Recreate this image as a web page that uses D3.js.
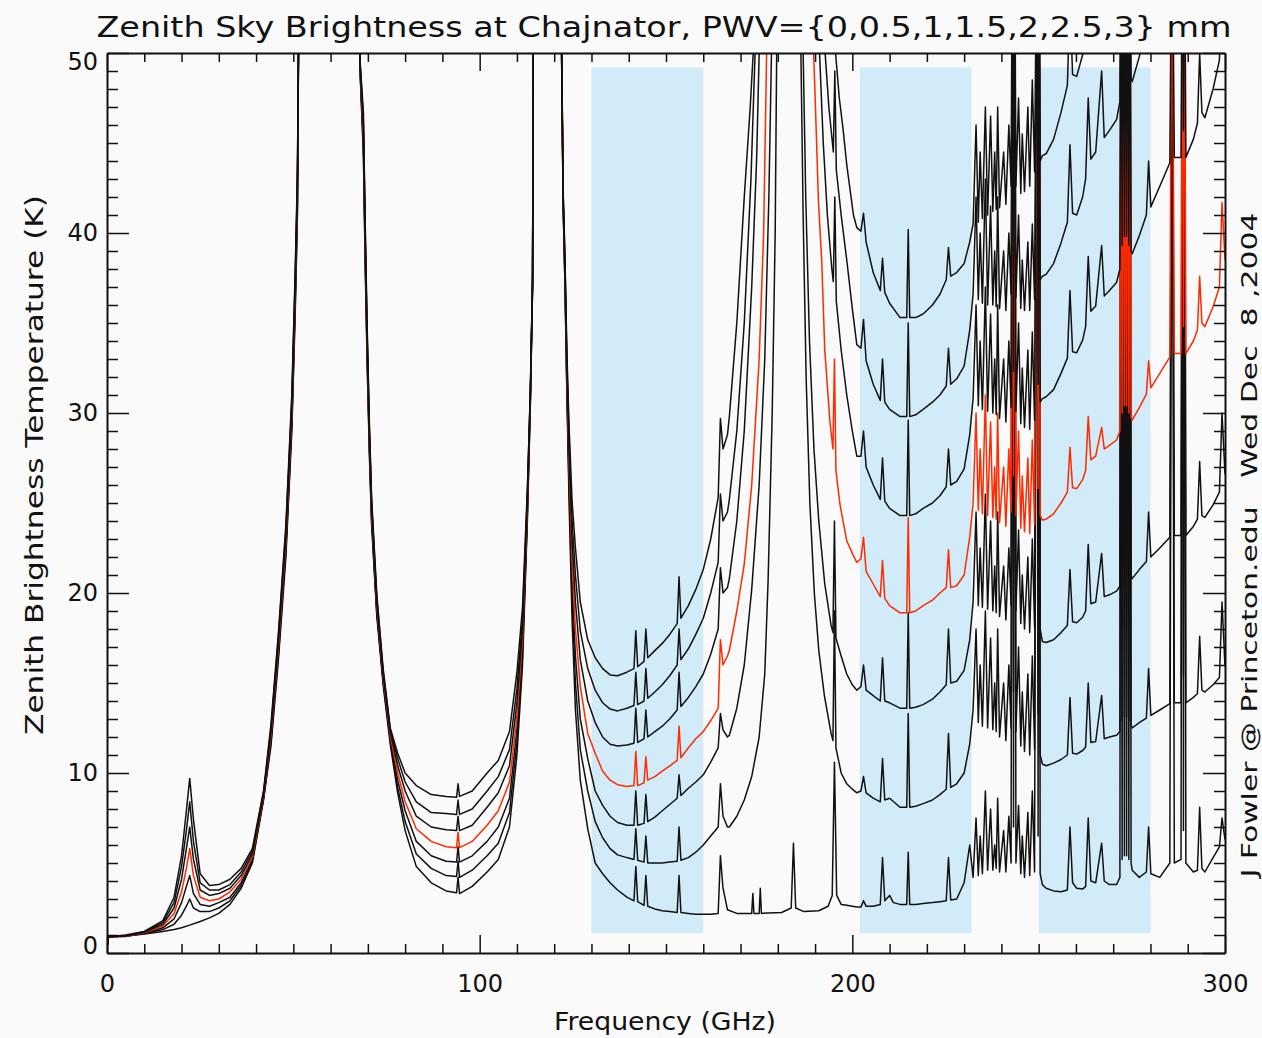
<!DOCTYPE html>
<html>
<head>
<meta charset="utf-8"/>
<title>Zenith Sky Brightness at Chajnator</title>
<script src="https://d3js.org/d3.v7.min.js"></script>
<style>
  body {margin:0; background:#fafafa;}
  text {font-family:"DejaVu Sans", sans-serif; fill:#111;}
  .axis path, .axis line {stroke:#111;}
</style>
</head>
<body>
<svg id="chart" width="1262" height="1038"></svg>
<script>
// ---- data: [frequency GHz, brightness K] ----
var pwvValues = [0, 0.5, 1, 1.5, 2, 2.5, 3];
var redPwv = 1.5;
var windowBands = [[130,160],[202,232],[250,280]];
var bandK = [1.1, 49.2];
var xMajorTicks = [0,100,200,300];
var yMajorTicks = [0,10,20,30,40,50];

var tb_pwv0 = [[0,0.3],[0.4,0.9],[5,0.95],[10,1.05],[15,1.2],[18,1.3],[20,1.4],[22.2,1.55],[25,1.75],[27.5,1.95],[30,2.2],[33,2.7],[36,3.6],[39,5.0],[42,8.5],[44,11.5],[46,16.3],[48,22.0],[49.6,29],[50.5,35.5],[51.1,41],[51.4,50.5],[52,60],[67.5,60],[67.9,49],[68.8,44.3],[69.3,38],[69.8,32.8],[70.4,27.7],[71,23.8],[72.4,18.7],[74.1,14.9],[76,11.6],[78,8.9],[80,6.8],[83,4.8],[87,3.9],[91,3.45],[93.8,3.35],[94.2,4.2],[94.6,3.3],[98,3.7],[102,4.5],[105,5.2],[108,7.0],[110,11],[111.5,16],[112.8,24],[113.6,30.5],[114.2,37],[114.5,60],[121.7,60],[122.0,49.5],[122.4,41.5],[122.9,37],[123.4,31],[124,25],[124.8,18.5],[125.7,13.5],[127,9.6],[129,6.9],[131,5.0],[133,4.4],[135,3.9],[137,3.5],[139.5,3.1],[141.4,2.9],[141.9,4.8],[142.4,2.85],[144.1,2.65],[144.6,4.3],[145.1,2.6],[147,2.45],[149,2.35],[151,2.3],[153,2.25],[153.5,4.3],[154,2.25],[156,2.2],[158,2.15],[160,2.15],[162,2.15],[164,2.2],[164.6,5.4],[165.3,3.6],[166.5,2.4],[169,2.2],[173,2.2],[173.3,3.3],[173.6,2.2],[175,2.2],[175.3,3.6],[175.6,2.2],[181,2.25],[183.6,2.5],[184.2,6.1],[184.8,2.5],[187,2.3],[191,2.35],[193.5,2.6],[194.6,3.2],[195.2,10.6],[195.8,3.2],[197,2.7],
  [198.5,2.65],[200,2.6],[201.2,2.55],[202.3,2.55],[203.0,2.9],[203.7,2.6],[205.6,2.6],[207.5,2.7],[208.1,5.3],[208.7,2.9],[210,3.2],[211,2.8],[212.8,2.7],[214.6,2.7],[215,5.6],[215.4,2.7],[217,2.7],[219,2.75],[221.5,2.8],[223.5,2.85],[225.2,2.9],[225.8,5.3],[226.4,2.95],[228,3.0],[230,3.9],[231.5,6.0],[232.4,4.2],
  [233.2,7.5],[233.8,4.3],[234.3,6.5],[234.9,4.4],[235.7,9.0],[236.3,4.6],[237.1,8.0],[237.7,4.6],[238.2,6.0],[238.6,4.7],[239.0,8.6],[239.5,4.5],[240.6,6.8],[241.2,4.5],[242.0,7.6],[242.6,5.0],[243.0,60],[243.25,7.0],[243.5,60],[243.9,5.0],[244.6,8.2],[245.2,4.4],[245.6,6.5],[246.2,4.2],[247.1,7.8],[247.6,4.3],[248.3,9.0],[248.9,4.5],[249.6,60],[249.85,6.5],[250.1,60],[250.4,4.4],[251,3.8],
  [252,3.6],[254,3.45],[256,3.4],[257.7,3.5],[258.4,7.0],[259.1,3.9],[260.2,3.6],[261.8,3.55],[262.6,3.7],[263.3,7.5],[264,4.0],[265.3,3.9],[266.9,6.1],[267.6,4.0],[269,3.8],[270.9,3.8],[271.8,4.2],[272.1,60],[272.4,5.2],[272.7,60],[273.0,5.4],[273.3,60],[273.6,5.4],[273.9,60],[274.2,5.2],[274.5,60],[274.8,5.0],[275.1,4.6],[277,4.2],[278.9,4.5],[279.5,7.0],[280.1,4.4],[282.5,4.2],[285.2,5.0],[285.8,60],[286.4,5.0],[288.2,5.2],[288.6,60],[288.85,6.8],[289.1,60],[289.5,5.0],[291.5,4.5],[292.6,4.6],[293.2,8.1],[293.8,4.7],[294.6,4.5],[296.8,5.3],[298.5,5.9],[299.2,7.5],[300,6.3]];

var tb_pwv05 = [[0,0.3],[0.4,0.9],[5,0.95],[10,1.07],[15,1.3],[18,1.6],[20,2.1],[21.3,2.6],[22.2,3.0],[23.2,2.5],[25,2.3],[27.5,2.3],[30,2.5],[33,2.9],[36,3.75],[39,5.1],[42,8.55],[44,11.7],[46,16.55],[48,22.3],[49.6,29.35],[50.5,35.9],[51.1,41.4],[51.4,50.6],[52,60],[67.5,60],[67.9,49.1],[68.8,44.7],[69.3,38.4],[69.8,33.15],[70.4,28.0],[71,24.05],[72.4,18.9],[74.1,15.05],[76,11.8],[78,9.2],[80,7.3],[83,5.5],[87,4.7],[91,4.3],[93.8,4.25],[94.2,5.1],[94.6,4.2],[98,4.6],[102,5.4],[105,6.1],[108,7.8],[110,11.7],[111.5,16.5],[112.8,24.3],[113.6,30.6],[114.2,37.1],[114.5,60],[121.7,60],[122.0,49.6],[122.4,41.6],[122.9,37.2],[123.4,31.4],[124,25.7],[124.8,19.6],[125.7,15],[127,11.3],[129,9.0],[131,7.3],[133,6.4],[135,5.8],[137,5.45],[139.5,5.3],[141.4,5.2],[141.9,6.9],[142.4,5.15],[144.1,5.05],[144.6,6.5],[145.1,5.0],[147,5.0],[149,5.0],[151,5.05],[153,5.1],[153.5,7.0],[154,5.15],[156,5.3],[158,5.6],[160,6.0],[162,6.5],[164,7.0],[164.6,9.4],[165.3,7.6],[166.5,7.0],[167,7.0],[169,7.6],[171,8.5],[173,9.8],[175,12.0],[176.5,15.5],[177.4,20.7],[178.5,30],[179.3,40],[179.7,50],[180,60],[186,60],[186.2,50],[186.8,41],[187.6,32],[188.6,25],[189.8,20],[191,16.8],[192.5,14.3],[194.3,12.2],[194.8,11.8],[195.2,19],[195.6,11.4],[197,10.0],
  [198.5,9.4],[200,9.1],[201.2,8.9],[202.3,9.0],[203.0,9.8],[203.7,8.9],[205.6,8.6],[207.5,8.4],[208.1,10.8],[208.7,8.5],[210,8.6],[212.8,8.1],[214.6,8.1],[215,13.3],[215.4,8.1],[217,8.15],[219,8.3],[221.5,8.5],[223.5,8.8],[225.2,9.1],[225.8,12.2],[226.4,9.2],[228,9.4],[230,10.0],[231.5,11.6],[232.4,13.5],
  [233.2,18],[233.8,12.8],[234.3,16],[234.9,12.6],[235.7,19],[236.3,12.5],[237.1,17.5],[237.7,12.4],[238.2,15],[238.6,12.3],[239.0,18],[239.5,12.0],[240.6,15],[241.2,11.8],[242.0,16],[242.6,12.5],[243.0,60],[243.25,14.5],[243.5,60],[243.9,12.3],[244.6,17],[245.2,11.5],[245.6,14.5],[246.2,11.2],[247.1,15.5],[247.6,11.0],[248.3,16.5],[248.9,11.3],[249.6,60],[249.85,13.3],[250.1,60],[250.4,11.0],[251,10.5],
  [252,10.4],[254,10.55],[256,10.75],[257.7,11.0],[258.4,14.2],[259.1,11.1],[260.2,11.05],[261.8,11.25],[262.6,11.45],[263.3,15.0],[264,11.7],[265.3,11.75],[266.9,14.3],[267.6,11.9],[269,12.0],[270.9,12.1],[271.8,12.3],[272.1,60],[272.4,12.9],[272.7,60],[273.0,13.1],[273.3,60],[273.6,13.1],[273.9,60],[274.2,12.9],[274.5,60],[274.8,12.7],[275.1,12.5],[277,12.8],[278.9,13.05],[279.5,15.8],[280.1,13.2],[282.5,13.5],[285.2,13.85],[285.8,60],[286.4,13.9],[288.2,13.9],[288.6,60],[288.85,15.4],[289.1,60],[289.5,13.9],[291.5,14.2],[292.6,14.4],[293.2,17.6],[293.8,14.6],[294.6,14.5],[296.8,14.9],[298.5,15.3],[299.2,19.5],[300,15.9]];

var tb_pwv10 = [[0,0.3],[0.4,0.9],[5,0.92],[10,1.1],[15,1.4],[18,1.9],[20,2.8],[21.3,3.7],[22.2,4.3],[23.2,3.3],[25,2.7],[27.5,2.6],[30,2.8],[33,3.1],[36,3.9],[39,5.2],[42,8.6],[44,11.9],[46,16.8],[48,22.6],[49.6,29.7],[50.5,36.3],[51.1,41.8],[51.4,50.7],[52,60],[67.5,60],[67.9,49.2],[68.8,45.1],[69.3,38.8],[69.8,33.5],[70.4,28.3],[71,24.3],[72.4,19.1],[74.1,15.2],[76,12.0],[78,9.6],[80,7.9],[83,6.2],[87,5.4],[91,5.1],[93.8,5.05],[94.2,5.9],[94.6,5.05],[98,5.4],[102,6.2],[105,7.0],[108,8.6],[110,12.4],[111.5,17],[112.8,24.6],[113.6,30.8],[114.2,37.2],[114.5,60],[121.7,60],[122.0,49.7],[122.4,41.7],[122.9,37.4],[123.4,31.8],[124,26.4],[124.8,20.7],[125.7,16.5],[127,13.0],[129,10.8],[131,9.0],[133,8.2],[135,7.6],[137,7.25],[139.5,7.1],[141.4,7.1],[141.9,9.0],[142.4,7.1],[144.1,7.2],[144.6,8.8],[145.1,7.3],[147,7.55],[149,7.9],[151,8.25],[153,8.6],[153.5,9.9],[154,8.75],[156,9.15],[158,9.5],[160,9.9],[162,10.6],[164,11.4],[164.6,13.3],[165.3,12.4],[166.5,12.0],[167,12.1],[169,13.6],[171,16.0],[173,20.2],[175,26],[176.5,33],[177.6,42],[178.3,50],[178.6,60],[186.5,60],[186.8,50],[187.5,42],[188.5,34],[189.7,28],[191,24],[192.6,20.5],[194.3,18.2],[194.8,17.8],[195.2,24],[195.6,17.5],[197,16.5],
  [198.5,15.5],[200,14.9],[201.2,14.6],[202.3,14.8],[203.0,16.0],[203.7,14.6],[205.6,14.3],[207.5,14.0],[208.1,16.4],[208.7,14.0],[210,13.9],[212.8,13.6],[214.6,13.6],[215,18.9],[215.4,13.6],[217,13.65],[219,13.8],[221.5,14.1],[223.5,14.5],[225.2,14.9],[225.8,18.0],[226.4,15.0],[228,15.1],[230,15.7],[231.5,17.4],[232.4,19.5],
  [233.2,24.5],[233.8,19.3],[234.3,22.5],[234.9,19.2],[235.7,25.5],[236.3,19.1],[237.1,24],[237.7,19.0],[238.2,21.5],[238.6,18.9],[239.0,24.5],[239.5,18.7],[240.6,21.5],[241.2,18.5],[242.0,22.5],[242.6,19.3],[243.0,60],[243.25,21.3],[243.5,60],[243.9,19.0],[244.6,23.5],[245.2,18.3],[245.6,21],[246.2,18.0],[247.1,22],[247.6,17.8],[248.3,23],[248.9,18.1],[249.6,60],[249.85,20.1],[250.1,60],[250.4,18.0],[251,17.3],
  [252,17.25],[254,17.4],[256,17.8],[257.7,18.2],[258.4,21.3],[259.1,18.4],[260.2,18.35],[261.8,18.65],[262.6,19.0],[263.3,22.7],[264,19.4],[265.3,19.5],[266.9,22.2],[267.6,19.8],[269,19.9],[270.9,20.1],[271.8,20.4],[272.1,60],[272.4,21.2],[272.7,60],[273.0,21.5],[273.3,60],[273.6,21.5],[273.9,60],[274.2,21.2],[274.5,60],[274.8,21.0],[275.1,20.8],[277,21.3],[278.9,21.75],[279.5,24.5],[280.1,22.0],[282.5,22.5],[285.2,23.1],[285.8,60],[286.4,23.2],[288.2,23.2],[288.6,60],[288.85,24.7],[289.1,60],[289.5,23.2],[291.5,23.7],[292.6,24.1],[293.2,27.3],[293.8,24.3],[294.6,24.2],[296.8,24.9],[298.5,25.6],[299.2,30],[300,26.6]];

var tb_pwv15 = [[0,0.3],[0.4,0.9],[5,0.93],[10,1.12],[15,1.5],[18,2.2],[20,3.4],[21.3,4.7],[22.2,5.8],[23.2,4.3],[25,3.1],[27.5,2.9],[30,3.0],[33,3.4],[36,4.1],[39,5.35],[42,8.7],[44,12.1],[46,17.05],[48,22.9],[49.6,30.05],[50.5,36.7],[51.1,42.2],[51.4,50.8],[52,60],[67.5,60],[67.9,49.3],[68.8,45.5],[69.3,39.2],[69.8,33.85],[70.4,28.6],[71,24.55],[72.4,19.3],[74.1,15.35],[76,12.1],[78,10.0],[80,8.4],[83,6.9],[87,6.2],[91,5.9],[93.8,5.85],[94.2,6.7],[94.6,5.85],[98,6.2],[102,7.1],[105,7.9],[108,9.5],[110,13.1],[111.5,17.5],[112.8,24.9],[113.6,30.9],[114.2,37.3],[114.5,60],[121.7,60],[122.0,49.8],[122.4,41.8],[122.9,37.7],[123.4,32.2],[124,27.1],[124.8,21.8],[125.7,18],[127,14.8],[129,12.2],[131,11.1],[133,10.1],[135,9.6],[137,9.35],[139.5,9.25],[141.4,9.3],[141.9,11.2],[142.4,9.3],[144.1,9.45],[144.6,10.9],[145.1,9.6],[147,9.8],[149,10.1],[151,10.4],[153,10.7],[153.5,12.6],[154,10.85],[156,11.4],[158,11.9],[160,12.3],[162,12.9],[164,13.6],[164.6,17.4],[165.3,16.0],[166.5,16.5],[167,16.8],[169,19.0],[171,21.6],[173,26],[175,33],[176.2,40],[177,50],[177.3,60],[189.3,60],[189.6,50],[190,47.7],[190.9,41.8],[191.8,38.4],[192.6,33.5],[194.0,29.5],[194.8,28],[195.2,33],[195.6,26.8],[196.7,24.9],
  [198.5,22.9],[200,22.2],[201.2,21.7],[202.3,21.9],[203.0,23.1],[203.7,21.2],[205.6,20.5],[207.5,19.8],[208.1,21.8],[208.7,19.7],[210,19.3],[212.8,18.9],[214.6,18.9],[215,24.2],[215.4,18.9],[217,19.0],[219,19.3],[221.5,19.6],[223.5,20.0],[225.2,20.3],[225.8,22.4],[226.4,20.3],[228,20.4],[230,21.0],[231.5,23.1],[232.4,25],
  [233.2,30],[233.8,24.6],[234.3,28],[234.9,24.4],[235.7,31],[236.3,24.3],[237.1,29.5],[237.7,24.2],[238.2,27],[238.6,24.1],[239.0,30],[239.5,23.9],[240.6,27],[241.2,23.7],[242.0,28],[242.6,24.5],[243.0,60],[243.25,26.5],[243.5,60],[243.9,24.3],[244.6,29],[245.2,23.6],[245.6,26.5],[246.2,23.4],[247.1,27.5],[247.6,23.3],[248.3,28.5],[248.9,23.8],[249.6,60],[249.85,25.8],[250.1,60],[250.4,24.3],[251,24.05],
  [252,24.1],[254,24.4],[256,25.0],[257.7,25.6],[258.4,28.1],[259.1,25.85],[260.2,25.8],[261.8,26.3],[262.6,26.8],[263.3,29.8],[264,27.4],[265.3,27.6],[266.9,29.2],[267.6,28.0],[269,28.2],[270.9,28.5],[271.8,29.0],[272.1,60],[272.4,30.0],[272.7,60],[273.0,30.4],[273.3,60],[273.6,30.4],[273.9,60],[274.2,30.0],[274.5,60],[274.8,29.8],[275.1,29.6],[277,30.3],[278.9,31.05],[279.5,32.9],[280.1,31.4],[282.5,32.2],[285.2,33.1],[285.8,60],[286.4,33.3],[288.2,33.3],[288.6,60],[288.85,34.8],[289.1,60],[289.5,33.3],[291.5,34.0],[292.6,34.6],[293.2,37.6],[293.8,35.0],[294.6,34.8],[296.8,35.9],[298.5,37.0],[299.2,41.7],[300,38.5]];

var tb_pwv20 = [[0,0.3],[0.4,0.9],[5,0.95],[10,1.15],[15,1.6],[18,2.5],[20,4.1],[21.3,5.8],[22.2,7.0],[23.2,5.2],[25,3.5],[27.5,3.2],[30,3.3],[33,3.6],[36,4.3],[39,5.5],[42,8.8],[44,12.3],[46,17.3],[48,23.2],[49.6,30.4],[50.5,37.1],[51.1,42.6],[51.4,50.9],[52,60],[67.5,60],[67.9,49.4],[68.8,45.9],[69.3,39.6],[69.8,34.2],[70.4,28.9],[71,24.8],[72.4,19.5],[74.1,15.5],[76,12.3],[78,10.4],[80,9.0],[83,7.6],[87,7.0],[91,6.85],[93.8,6.8],[94.2,7.6],[94.6,6.8],[98,7.1],[102,8.1],[105,8.9],[108,10.4],[110,13.9],[111.5,18],[112.8,25.2],[113.6,31.0],[114.2,37.4],[114.5,60],[121.7,60],[122.0,50],[122.4,42],[122.9,38],[123.4,32.6],[124,27.8],[124.8,22.9],[125.7,19.5],[127,16.3],[129,14.0],[131,12.8],[133,12.0],[135,11.6],[137,11.5],[139.5,11.55],[141.4,11.65],[141.9,13.6],[142.4,11.7],[144.1,11.9],[144.6,13.5],[145.1,12.0],[147,12.3],[149,12.6],[151,13.0],[153,13.5],[153.5,15.6],[154,13.7],[156,14.2],[158,14.8],[160,15.5],[162,16.6],[164,18.0],[164.6,21.4],[165.3,20.0],[166.5,20.3],[167,20.8],[169,24],[171,29],[173,37],[174.3,44],[175,50],[175.3,60],[190.8,60],[191.2,50],[192.2,45],[193.3,41],[194.5,38],[194.9,37.3],[195.3,42],[195.7,36.2],[197,33.5],
  [198.5,31],[200,29],[201.2,27.6],[202.3,27.6],[203.0,29.0],[203.7,27.0],[205.6,26.0],[207.5,25.2],[208.1,27.5],[208.7,25.1],[210,24.7],[212.8,24.3],[214.6,24.3],[215,29.6],[215.4,24.3],[217,24.4],[219,24.7],[221.5,25.0],[223.5,25.4],[225.2,25.9],[225.8,28.0],[226.4,26.0],[228,26.2],[230,26.9],[231.5,28.8],[232.4,30.8],
  [233.2,36],[233.8,30.4],[234.3,34],[234.9,30.2],[235.7,37],[236.3,30.1],[237.1,35.5],[237.7,30.0],[238.2,33],[238.6,29.9],[239.0,36],[239.5,29.7],[240.6,33],[241.2,29.5],[242.0,34],[242.6,30.3],[243.0,60],[243.25,32.3],[243.5,60],[243.9,30.1],[244.6,35],[245.2,29.4],[245.6,32.5],[246.2,29.2],[247.1,33.5],[247.6,29.1],[248.3,34.5],[248.9,29.6],[249.6,60],[249.85,31.6],[250.1,60],[250.4,30.6],[251,30.8],
  [252,30.9],[254,31.3],[256,32.2],[257.7,33.05],[258.4,36.8],[259.1,33.4],[260.2,33.35],[261.8,34.05],[262.6,34.8],[263.3,38.7],[264,35.65],[265.3,35.95],[266.9,39.3],[267.6,36.5],[269,36.8],[270.9,37.25],[271.8,38.0],[272.1,60],[272.4,39.3],[272.7,60],[273.0,39.8],[273.3,60],[273.6,39.8],[273.9,60],[274.2,39.3],[274.5,60],[274.8,39.0],[275.1,38.85],[277,39.85],[278.9,41.0],[279.5,44.0],[280.1,41.45],[282.5,42.6],[285.2,43.9],[285.8,60],[286.4,44.2],[288.2,44.2],[288.6,60],[288.85,45.7],[289.1,60],[289.5,44.2],[291.5,45.2],[292.6,46.1],[293.2,50],[293.8,46.7],[294.6,46.4],[296.8,48.0],[298.5,49.6],[299.2,55],[300,51.8]];

var tb_pwv25 = [[0,0.3],[0.4,0.9],[5,0.97],[10,1.18],[15,1.7],[18,2.8],[20,4.8],[21.3,6.8],[22.2,8.4],[23.2,6.2],[25,3.9],[27.5,3.5],[30,3.5],[33,3.8],[36,4.5],[39,5.65],[42,8.9],[44,12.5],[46,17.55],[48,23.5],[49.6,30.75],[50.5,37.5],[51.1,43],[51.4,51],[52,60],[67.5,60],[67.9,49.5],[68.8,46.3],[69.3,40],[69.8,34.55],[70.4,29.2],[71,25.05],[72.4,19.7],[74.1,15.65],[76,12.4],[78,10.8],[80,9.5],[83,8.4],[87,7.8],[91,7.75],[93.8,7.7],[94.2,8.5],[94.6,7.7],[98,8.0],[102,9.0],[105,9.8],[108,11.3],[110,14.7],[111.5,18.6],[112.8,25.5],[113.6,31.2],[114.2,37.5],[114.5,60],[121.7,60],[122.0,50.2],[122.4,42.2],[122.9,38.3],[123.4,33],[124,28.5],[124.8,24],[125.7,21],[127,17.9],[129,15.8],[131,14.6],[133,13.9],[135,13.55],[137,13.45],[139.5,13.6],[141.4,13.75],[141.9,15.6],[142.4,13.8],[144.1,14.0],[144.6,15.8],[145.1,14.15],[147,14.5],[149,14.9],[151,15.4],[153,16.0],[153.5,18.0],[154,16.3],[156,16.9],[158,17.7],[160,18.6],[162,20.0],[164,21.7],[164.6,25.5],[165.3,24.0],[166.5,24.5],[167,25.2],[169,29],[171,35],[172.8,43],[173.9,50],[174.2,60],[192.3,60],[192.7,50],[193.7,47],[194.9,44.5],[195.3,49],[195.7,43.5],[197,41],
  [198.5,38.5],[200,35.8],[201.2,33.8],[202.3,33.6],[203.0,35.2],[203.7,32.9],[205.6,31.6],[207.5,30.7],[208.1,33.0],[208.7,30.6],[210,30.2],[212.8,29.8],[214.6,29.8],[215,35.0],[215.4,29.8],[217,29.9],[219,30.2],[221.5,30.6],[223.5,31.0],[225.2,31.5],[225.8,33.6],[226.4,31.6],[228,31.9],[230,32.6],[231.5,34.6],[232.4,36.6],
  [233.2,42],[233.8,36.3],[234.3,40],[234.9,36.1],[235.7,43],[236.3,36.0],[237.1,41.5],[237.7,36.0],[238.2,39],[238.6,35.9],[239.0,42],[239.5,35.8],[240.6,39],[241.2,35.7],[242.0,40],[242.6,36.6],[243.0,60],[243.25,38.6],[243.5,60],[243.9,36.4],[244.6,41],[245.2,35.8],[245.6,38.5],[246.2,35.7],[247.1,39.5],[247.6,35.7],[248.3,40.5],[248.9,36.3],[249.6,60],[249.85,38.3],[250.1,60],[250.4,37.4],[251,37.6],
  [252,37.7],[254,38.3],[256,39.45],[257.7,40.6],[258.4,44.9],[259.1,41.1],[260.2,41.0],[261.8,42.0],[262.6,43.0],[263.3,47.5],[264,44.1],[265.3,44.5],[266.9,49],[267.6,45.3],[269,45.7],[270.9,46.3],[271.8,47.3],[272.1,60],[272.4,48.5],[272.7,60],[273.0,49.3],[273.3,60],[273.6,49.3],[273.9,60],[274.2,48.8],[274.5,60],[274.8,48.6],[275.1,48.4],[277,49.8],[278.9,51.3],[279.5,56],[280.1,52],[282.5,54],[285,60],[300,60]];

var tb_pwv30 = [[0,0.3],[0.4,0.9],[5,1.0],[10,1.2],[15,1.8],[18,3.1],[20,5.4],[21.3,7.9],[22.2,9.7],[23.2,7.4],[25,4.4],[27.5,3.75],[30,3.8],[33,4.1],[36,4.7],[39,5.8],[42,9.0],[44,12.7],[46,17.8],[48,23.8],[49.6,31.1],[50.5,37.9],[51.1,43.4],[51.4,51.1],[52,60],[67.5,60],[67.9,49.6],[68.8,46.7],[69.3,40.4],[69.8,34.9],[70.4,29.5],[71,25.3],[72.4,19.9],[74.1,15.8],[76,12.5],[78,11.1],[80,10.0],[83,9.3],[87,8.8],[91,8.7],[93.8,8.65],[94.2,9.4],[94.6,8.7],[98,9.0],[102,10.0],[105,10.7],[108,12.3],[110,15.6],[111.5,19.2],[112.8,25.8],[113.6,31.3],[114.2,37.6],[114.5,60],[121.7,60],[122.0,50.4],[122.4,42.4],[122.9,38.6],[123.4,33.4],[124,29.2],[124.8,25.1],[125.7,22.5],[127,19.5],[129,17.4],[131,16.4],[133,15.8],[135,15.45],[137,15.4],[139.5,15.6],[141.4,15.8],[141.9,17.9],[142.4,15.9],[144.1,16.2],[144.6,18.0],[145.1,16.4],[147,16.8],[149,17.2],[151,17.7],[153,18.3],[153.5,20.9],[154,18.6],[156,19.3],[158,20.2],[160,21.3],[162,23.0],[164,25.3],[164.6,29.7],[165.3,28.0],[166.5,28.8],[167,29.8],[169,35],[171,42],[172.6,47],[173.4,50],[173.7,60],[195,60],[195.5,50],[196.5,47.5],[197.5,45.8],
  [198.5,43.8],[199.4,42.4],[200.3,41.0],[201.2,40.3],[202.3,40.1],[203.0,41.1],[203.7,39.5],[205.6,37.8],[207.5,36.8],[208.1,38.6],[208.7,36.7],[210,36.1],[212.8,35.3],[214.6,35.3],[215,40.2],[215.4,35.3],[217,35.3],[219,35.5],[221.5,36.0],[223.5,36.6],[225.2,37.4],[225.8,39.2],[226.4,37.6],[228,37.8],[230,38.3],[231.5,39.5],[232.4,40.5],
  [233.2,46],[233.8,40.6],[234.3,44.5],[234.9,40.8],[235.7,47],[236.3,41.0],[237.1,46.5],[237.7,41.2],[238.2,44.5],[238.6,41.3],[239.0,47],[239.5,41.4],[240.6,44.5],[241.2,41.6],[242.0,46],[242.6,42.6],[243.0,60],[243.25,44.6],[243.5,60],[243.9,42.6],[244.6,47.5],[245.2,42.2],[245.6,45.5],[246.2,42.3],[247.1,47],[247.6,42.6],[248.3,48.5],[248.9,43.4],[249.6,60],[249.85,45.4],[250.1,60],[250.4,44.0],[251,44.3],
  [252,44.4],[254,45.2],[256,46.7],[257.7,48.2],[258.4,53],[259.1,48.8],[260.2,48.7],[261.8,49.9],[262.6,51.2],[263.3,56],[264,60],[300,60]];

var curveData = [tb_pwv0, tb_pwv05, tb_pwv10, tb_pwv15, tb_pwv20, tb_pwv25, tb_pwv30];

// ---- chart ----
var svg = d3.select("#chart");
var x = d3.scaleLinear([0,300],[107,1225]);
var y = d3.scaleLinear([0,50],[953,53]);

svg.append("rect").attr("width",1262).attr("height",1038).attr("fill","#fafafa");

svg.append("clipPath").attr("id","plotClip")
  .append("rect").attr("x",x(0)).attr("y",y(50)).attr("width",x(300)-x(0)).attr("height",y(0)-y(50));

svg.selectAll("rect.band").data(windowBands).enter().append("rect")
  .attr("class","band")
  .attr("x", d => x(d[0]))
  .attr("width", d => x(d[1]) - x(d[0]))
  .attr("y", y(bandK[1]))
  .attr("height", y(bandK[0]) - y(bandK[1]))
  .attr("fill","#d1ecf8");

var line = d3.line().x(d => x(d[0])).y(d => y(d[1]));
var curves = curveData.map((v,i) => ({pwv: pwvValues[i], values: v}));

svg.append("g").attr("clip-path","url(#plotClip)")
  .selectAll("path").data(curves).enter().append("path")
  .attr("d", d => line(d.values))
  .attr("fill","none")
  .attr("stroke", d => d.pwv == redPwv ? "#ff2a00" : "#111")
  .attr("stroke-width",1.5)
  .attr("stroke-linejoin","round");

// axes
var xMinor = d3.range(0,301,10).filter(v => xMajorTicks.indexOf(v) < 0);
var yMinor = d3.range(0,51,1).filter(v => yMajorTicks.indexOf(v) < 0);

function styleAxis(g, fs) {
  g.attr("class","axis");
  g.selectAll("path").attr("stroke-width",2);
  g.selectAll("line").attr("stroke-width",1.5);
  g.selectAll("text").attr("font-size",fs).attr("font-family","DejaVu Sans").attr("fill","#111");
}

svg.append("g").attr("transform","translate(0," + y(0) + ")")
  .call(d3.axisBottom(x).tickValues(xMajorTicks).tickSizeInner(-18).tickSizeOuter(0).tickPadding(22).tickFormat(d3.format("d")))
  .call(g => styleAxis(g,24));
svg.append("g").attr("transform","translate(0," + y(0) + ")")
  .call(d3.axisBottom(x).tickValues(xMinor).tickSizeInner(-9).tickSizeOuter(0).tickFormat(""))
  .call(g => { styleAxis(g,24); g.select(".domain").remove(); });
svg.append("g").attr("transform","translate(0," + y(50) + ")")
  .call(d3.axisTop(x).tickValues(xMajorTicks).tickSizeInner(-18).tickSizeOuter(0).tickFormat(""))
  .call(g => styleAxis(g,24));
svg.append("g").attr("transform","translate(0," + y(50) + ")")
  .call(d3.axisTop(x).tickValues(xMinor).tickSizeInner(-9).tickSizeOuter(0).tickFormat(""))
  .call(g => { styleAxis(g,24); g.select(".domain").remove(); });

svg.append("g").attr("transform","translate(" + x(0) + ",0)")
  .call(d3.axisLeft(y).tickValues(yMajorTicks).tickSizeInner(-22).tickSizeOuter(0).tickPadding(9).tickFormat(d3.format("d")))
  .call(g => {
    styleAxis(g,24);
    // end labels sit inside the frame, as in the original
    g.selectAll("text").attr("dy", d => d == 50 ? "0.7em" : (d == 0 ? "0em" : "0.32em"));
  });
svg.append("g").attr("transform","translate(" + x(0) + ",0)")
  .call(d3.axisLeft(y).tickValues(yMinor).tickSizeInner(-11).tickSizeOuter(0).tickFormat(""))
  .call(g => { styleAxis(g,24); g.select(".domain").remove(); });
svg.append("g").attr("transform","translate(" + x(300) + ",0)")
  .call(d3.axisRight(y).tickValues(yMajorTicks).tickSizeInner(-22).tickSizeOuter(0).tickFormat(""))
  .call(g => styleAxis(g,24));
svg.append("g").attr("transform","translate(" + x(300) + ",0)")
  .call(d3.axisRight(y).tickValues(yMinor).tickSizeInner(-11).tickSizeOuter(0).tickFormat(""))
  .call(g => { styleAxis(g,24); g.select(".domain").remove(); });

// titles
svg.append("text")
  .attr("x",664).attr("y",37)
  .attr("text-anchor","middle").attr("font-size",28)
  .attr("textLength",1135).attr("lengthAdjust","spacingAndGlyphs")
  .text("Zenith Sky Brightness at Chajnator, PWV={0,0.5,1,1.5,2,2.5,3} mm");

svg.append("text")
  .attr("x",665).attr("y",1030)
  .attr("text-anchor","middle").attr("font-size",24)
  .attr("textLength",222).attr("lengthAdjust","spacingAndGlyphs")
  .text("Frequency (GHz)");

svg.append("text")
  .attr("transform","translate(43,465) rotate(-90)")
  .attr("text-anchor","middle").attr("font-size",24)
  .attr("textLength",540).attr("lengthAdjust","spacingAndGlyphs")
  .text("Zenith Brightness Temperature (K)");

svg.append("text")
  .attr("transform","translate(1257,545) rotate(-90)")
  .attr("text-anchor","middle").attr("font-size",22)
  .attr("textLength",665).attr("lengthAdjust","spacingAndGlyphs")
  .style("white-space","pre")
  .text("J Fowler @ Princeton.edu   Wed Dec  8 ,2004");
</script>
</body>
</html>
